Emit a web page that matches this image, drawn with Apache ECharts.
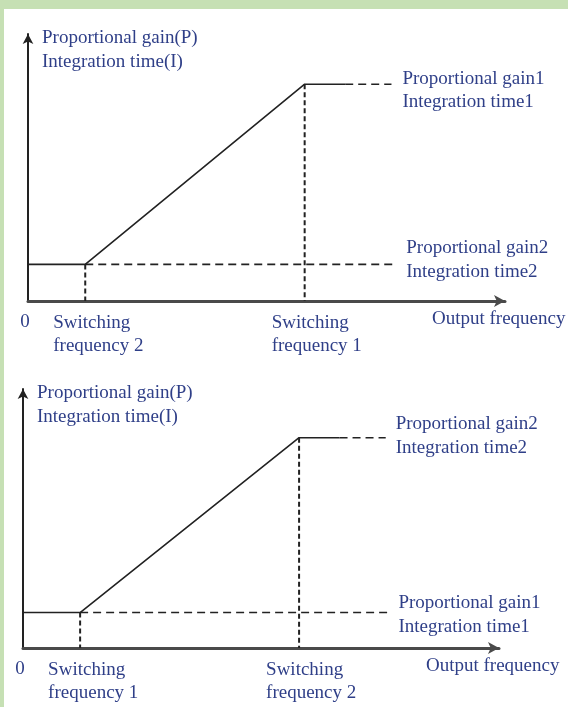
<!DOCTYPE html>
<html>
<head>
<meta charset="utf-8">
<script src="https://cdn.jsdelivr.net/npm/echarts@6/dist/echarts.min.js"></script>
<style>
  html, body { margin: 0; padding: 0; background: #fff; }
  #chart { width: 568px; height: 707px; }
</style>
</head>
<body>
<div id="chart"></div>
<script>
// x positions (0..100 along the frequency axis)
const xStart = 0
const xSwitchLow = 12
const xSwitchHigh = 58
const xSolidEnd = 66.5
const xDashEnd = 76.2
const xLowDashEnd = 77.2
// y levels (0..100 along the gain axis)
const levelLow = 13.7
const levelHigh = 81.2

const yTitle = ['Proportional gain(P)', 'Integration time(I)']
const xTitle = 'Output frequency'
const panels = [
  {
    lowTick: ['Switching', 'frequency 2'],
    highTick: ['Switching', 'frequency 1'],
    highText: ['Proportional gain1', 'Integration time1'],
    lowText: ['Proportional gain2', 'Integration time2']
  },
  {
    lowTick: ['Switching', 'frequency 1'],
    highTick: ['Switching', 'frequency 2'],
    highText: ['Proportional gain2', 'Integration time2'],
    lowText: ['Proportional gain1', 'Integration time1']
  }
]

const textColor = '#2f3f88'
const font = '19px "Liberation Serif", serif'
const lineColor = '#222'

const chart = echarts.init(document.getElementById('chart'))

const grids = [
  { left: 28, right: 63, top: 34, height: 267 },
  { left: 23, right: 69, top: 389, height: 259 }
]

function axisX(i) {
  return {
    type: 'value', gridIndex: i, min: 0, max: 100,
    splitLine: { show: false }, axisTick: { show: false }, axisLabel: { show: false },
    axisLine: { show: true, symbol: ['none', 'arrow'], symbolSize: [9, 11], lineStyle: { color: '#4a4a4a', width: 3 } }
  }
}
function axisY(i) {
  return {
    type: 'value', gridIndex: i, min: 0, max: 100,
    splitLine: { show: false }, axisTick: { show: false }, axisLabel: { show: false },
    axisLine: { show: true, onZero: false, symbol: ['none', 'arrow'], symbolSize: [8, 10], lineStyle: { color: '#222', width: 2 } }
  }
}

function seriesFor(i) {
  const base = { type: 'line', xAxisIndex: i, yAxisIndex: i, symbol: 'none', silent: true, animation: false }
  const dashed = { color: lineColor, width: 1.6, type: [8, 5] }
  const vDashed = { color: lineColor, width: 2, type: [5, 3] }
  return [
    Object.assign({}, base, {
      data: [[xStart, levelLow], [xSwitchLow, levelLow], [xSwitchHigh, levelHigh], [xSolidEnd, levelHigh]],
      lineStyle: { color: lineColor, width: 1.6 }
    }),
    Object.assign({}, base, { data: [[xSolidEnd, levelHigh], [xDashEnd, levelHigh]], lineStyle: dashed }),
    Object.assign({}, base, { data: [[xSwitchHigh, levelHigh], [xSwitchHigh, 0]], lineStyle: vDashed }),
    Object.assign({}, base, { data: [[xSwitchLow, levelLow], [xSwitchLow, 0]], lineStyle: vDashed }),
    Object.assign({}, base, { data: [[xSwitchLow, levelLow], [xLowDashEnd, levelLow]], lineStyle: dashed })
  ]
}

chart.setOption({
  backgroundColor: '#fff',
  animation: false,
  grid: grids,
  xAxis: [axisX(0), axisX(1)],
  yAxis: [axisY(0), axisY(1)],
  series: seriesFor(0).concat(seriesFor(1))
})

// label offsets per panel (pixels from their anchor points)
const offsets = [
  { high: [11, -5, 18], low: [10, -16, 8] },
  { high: [10, -14, 10], low: [8, -10, 14] }
]

function txt(x, y, s, align) {
  return { type: 'text', x: x, y: y, style: { text: s, font: font, fill: textColor, align: align || 'left', verticalAlign: 'middle' } }
}

const graphic = [
  { type: 'rect', shape: { x: 0, y: 0, width: 568, height: 9 }, style: { fill: '#c6e0b4' } },
  { type: 'rect', shape: { x: 0, y: 0, width: 4, height: 707 }, style: { fill: '#c6e0b4' } }
]

panels.forEach((p, i) => {
  const g = { gridIndex: i }
  const origin = chart.convertToPixel(g, [0, 0])
  const top = chart.convertToPixel(g, [0, 100])
  const end = chart.convertToPixel(g, [100, 0])
  const lowTick = chart.convertToPixel(g, [xSwitchLow, 0])
  const highTick = chart.convertToPixel(g, [xSwitchHigh, 0])
  const highEnd = chart.convertToPixel(g, [xDashEnd, levelHigh])
  const lowEnd = chart.convertToPixel(g, [xLowDashEnd, levelLow])
  const o = offsets[i]

  graphic.push(txt(top[0] + 14, top[1] + 4, yTitle[0]))
  graphic.push(txt(top[0] + 14, top[1] + 28, yTitle[1]))
  graphic.push(txt(origin[0] - 3, origin[1] + 21, '0', 'center'))
  graphic.push(txt(lowTick[0] - 32, lowTick[1] + 22, p.lowTick[0]))
  graphic.push(txt(lowTick[0] - 32, lowTick[1] + 45, p.lowTick[1]))
  graphic.push(txt(highTick[0] - 33, highTick[1] + 22, p.highTick[0]))
  graphic.push(txt(highTick[0] - 33, highTick[1] + 45, p.highTick[1]))
  graphic.push(txt(highEnd[0] + o.high[0], highEnd[1] + o.high[1], p.highText[0]))
  graphic.push(txt(highEnd[0] + o.high[0], highEnd[1] + o.high[2], p.highText[1]))
  graphic.push(txt(lowEnd[0] + o.low[0], lowEnd[1] + o.low[1], p.lowText[0]))
  graphic.push(txt(lowEnd[0] + o.low[0], lowEnd[1] + o.low[2], p.lowText[1]))
  graphic.push(txt(end[0] - 73, end[1] + 18, xTitle))
})

chart.setOption({ graphic: graphic })
</script>
</body>
</html>
